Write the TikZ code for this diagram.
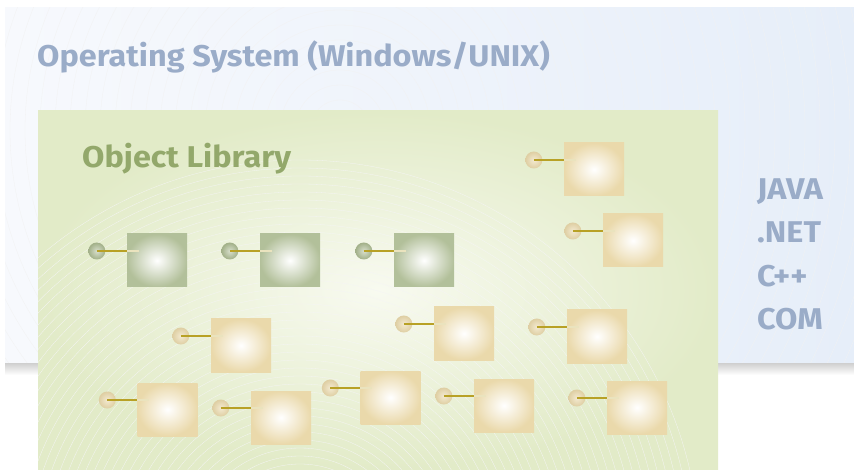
\documentclass[tikz,border=0pt]{standalone}
\usepackage{fontspec}
\setmainfont{Fira Sans}[FakeStretch=1.08]
\usetikzlibrary{positioning}

\definecolor{oswhite}{HTML}{F7F9FD}
\definecolor{osblue}{HTML}{E6EEF9}
\definecolor{oslabel}{HTML}{9AACC8}
\definecolor{libpale}{HTML}{F8FAF0}
\definecolor{libgreen}{HTML}{E2EBC8}
\definecolor{liblabel}{HTML}{93A86B}
\definecolor{sage}{HTML}{AAB98F}
\definecolor{tan}{HTML}{EAD9AB}
\definecolor{stickgold}{HTML}{B8A126}

\begin{document}
\begin{tikzpicture}[
    x=1pt,y=-1pt,
    panel/.style={rectangle,inner sep=0,outer sep=0},
    title/.style={font=\fontsize{30}{32}\selectfont\bfseries,inner sep=0,anchor=base west},
    objbox/.style={rectangle,minimum width=60,minimum height=53,inner sep=0,shading=radial,inner color=white,outer color=tan},
    greenbox/.style={objbox,inner color=white,outer color=sage!90},
    knob/.style={circle,minimum size=17,inner sep=0,shading=radial,inner color=tan!55,outer color=tan!95!black},
    greenknob/.style={knob,inner color=sage!45,outer color=sage!95!black},
    stick/.style={draw=stickgold,line width=1.8}
]
    \useasboundingbox (0,0) rectangle (854,470);

    % Operating system panel
    \shade[top color=black!22,bottom color=white] (5,361) rectangle (854,375);
    \node[panel,minimum width=849,minimum height=354,left color=oswhite,right color=osblue] (os) at (429.5,185) {};
    \begin{scope}
        \clip (os.south west) rectangle (os.north east);
        \foreach \r in {30,45,...,600}
            \draw[black!5,line width=0.3] (340,130) circle (\r);
    \end{scope}
    \node[title,text=oslabel] (oslbl) at (37,67) {Operating System (Windows/UNIX)};

    % Languages
    \node[title,text=oslabel] (java) at (757,200) {JAVA};
    \node[title,text=oslabel] (dotnet) at (757,243) {.NET};
    \node[title,text=oslabel] (cpp) at (757,287) {C++};
    \node[title,text=oslabel] (com) at (757,330) {COM};

    % Object library panel
    \node[panel,minimum width=680,minimum height=359,shading=radial,inner color=libpale,outer color=libgreen] (lib) at (378,290.5) {};
    \begin{scope}
        \clip (lib.south west) rectangle (lib.north east);
        \foreach \r in {40,48,...,400}
            \draw[black!4,line width=0.3] (300,560) circle (\r);
    \end{scope}
    \node[title,text=liblabel] (liblbl) at (82,168) {Object Library};

    % Objects
    \foreach \n/\x/\y/\s in {1/157/260.5/greenbox,2/290/260.5/greenbox,3/424/260.5/greenbox,
        4/594/169.5/objbox,5/633/240.5/objbox,6/241/345.5/objbox,7/464/333.5/objbox,
        8/597/336.5/objbox,9/167.5/409.5/objbox,10/281/417.5/objbox,11/390.5/397.5/objbox,
        12/504/405.5/objbox,13/637/407.5/objbox}
        \node[\s] (obj\n) at (\x,\y) {};

    \foreach \n in {1,2,3}
        \node[greenknob] (knob\n) at ([xshift=-30,yshift=9.5]obj\n.west) {};
    \foreach \n in {4,...,13}
        \node[knob] (knob\n) at ([xshift=-30,yshift=9.5]obj\n.west) {};

    \foreach \n in {1,...,13}{
        \draw[stick] (knob\n.center) -- (knob\n.center -| obj\n.west);
        \draw[stick,draw=stickgold!30] (knob\n.center -| obj\n.west) -- ++(12,0);
    }
\end{tikzpicture}
\end{document}
